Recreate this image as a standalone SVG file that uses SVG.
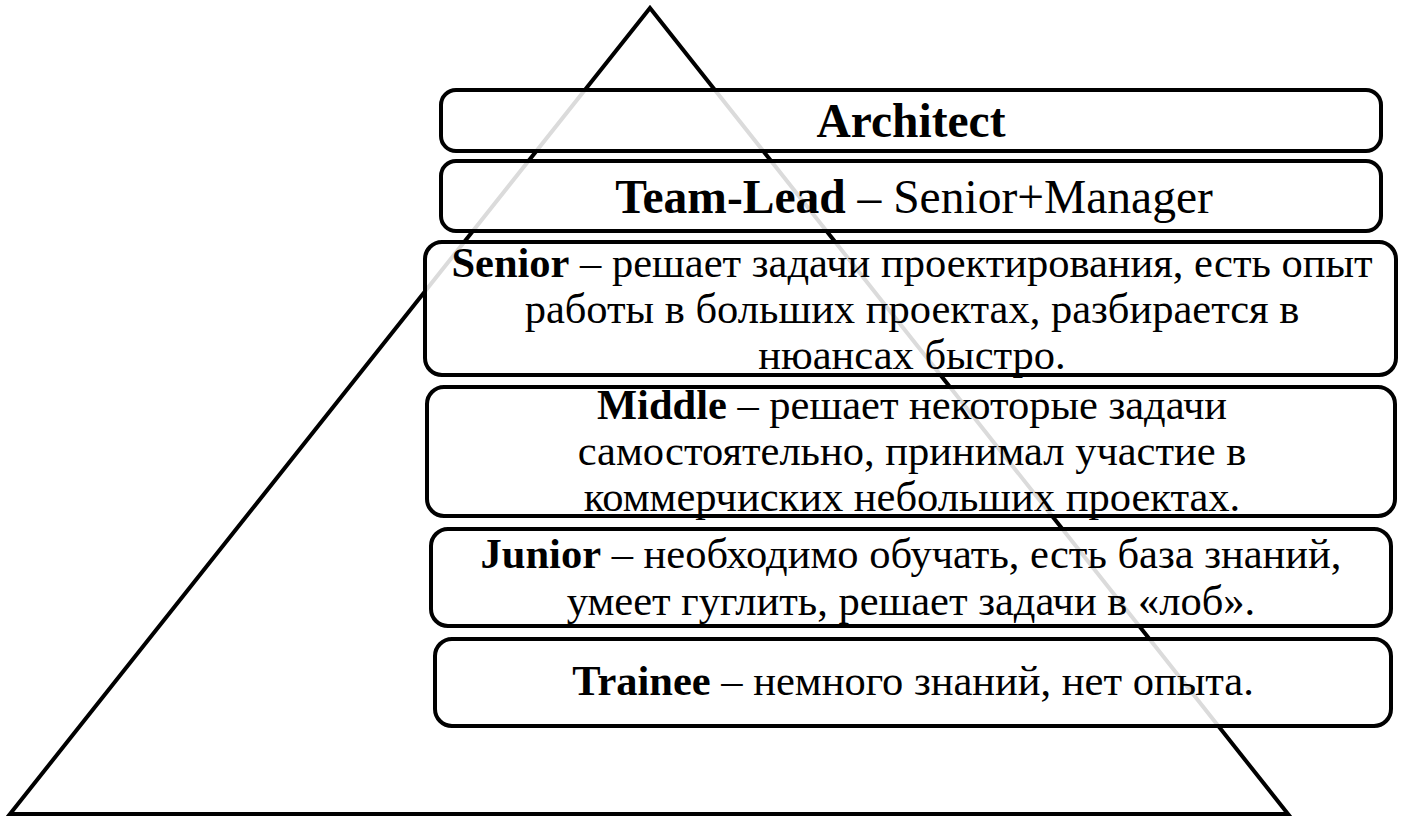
<svg xmlns="http://www.w3.org/2000/svg" width="1402" height="817" viewBox="0 0 1402 817">
<style>
.box{fill:#fff;fill-opacity:0.86;stroke:#000;stroke-width:4}
.t{font-family:"Liberation Serif","Times New Roman",serif;fill:#000;text-anchor:middle}
.big{font-size:47.5px}
.sm{font-size:42.5px}
.b{font-weight:bold}
</style>
<rect width="1402" height="817" fill="#fff"/>
<g id="pyramid">
<polygon points="650,8 1288,814 10,814" fill="none" stroke="#000" stroke-width="4" stroke-linejoin="miter"/>
</g>
<g id="architect">
<rect class="box" x="441" y="90" width="940" height="61" rx="15"/>
<text class="t big" x="911" y="137"><tspan class="b">Architect</tspan></text>
</g>
<g id="teamlead">
<rect class="box" x="441" y="161" width="940" height="70" rx="15"/>
<text class="t big" x="914" y="213"><tspan class="b">Team-Lead</tspan> – Senior+Manager</text>
</g>
<g id="senior">
<rect class="box" x="425" y="242" width="971" height="133" rx="17"/>
<text class="t sm" x="912" y="277"><tspan class="b">Senior</tspan> – решает задачи проектирования, есть опыт</text>
<text class="t sm" x="912" y="323">работы в больших проектах, разбирается в</text>
<text class="t sm" x="912" y="369">нюансах быстро.</text>
</g>
<g id="middle">
<rect class="box" x="427" y="387" width="968" height="129" rx="17"/>
<text class="t sm" x="912" y="419"><tspan class="b">Middle</tspan> – решает некоторые задачи</text>
<text class="t sm" x="912" y="465">самостоятельно, принимал участие в</text>
<text class="t sm" x="912" y="511">коммерчиских небольших проектах.</text>
</g>
<g id="junior">
<rect class="box" x="431" y="529" width="960" height="97" rx="17"/>
<text class="t sm" x="911" y="568"><tspan class="b">Junior</tspan> – необходимо обучать, есть база знаний,</text>
<text class="t sm" x="911" y="615">умеет гуглить, решает задачи в «лоб».</text>
</g>
<g id="trainee">
<rect class="box" x="435" y="639" width="956" height="87" rx="17"/>
<text class="t sm" x="913" y="695"><tspan class="b">Trainee</tspan> – немного знаний, нет опыта.</text>
</g>
<g id="connectors"/>
</svg>
